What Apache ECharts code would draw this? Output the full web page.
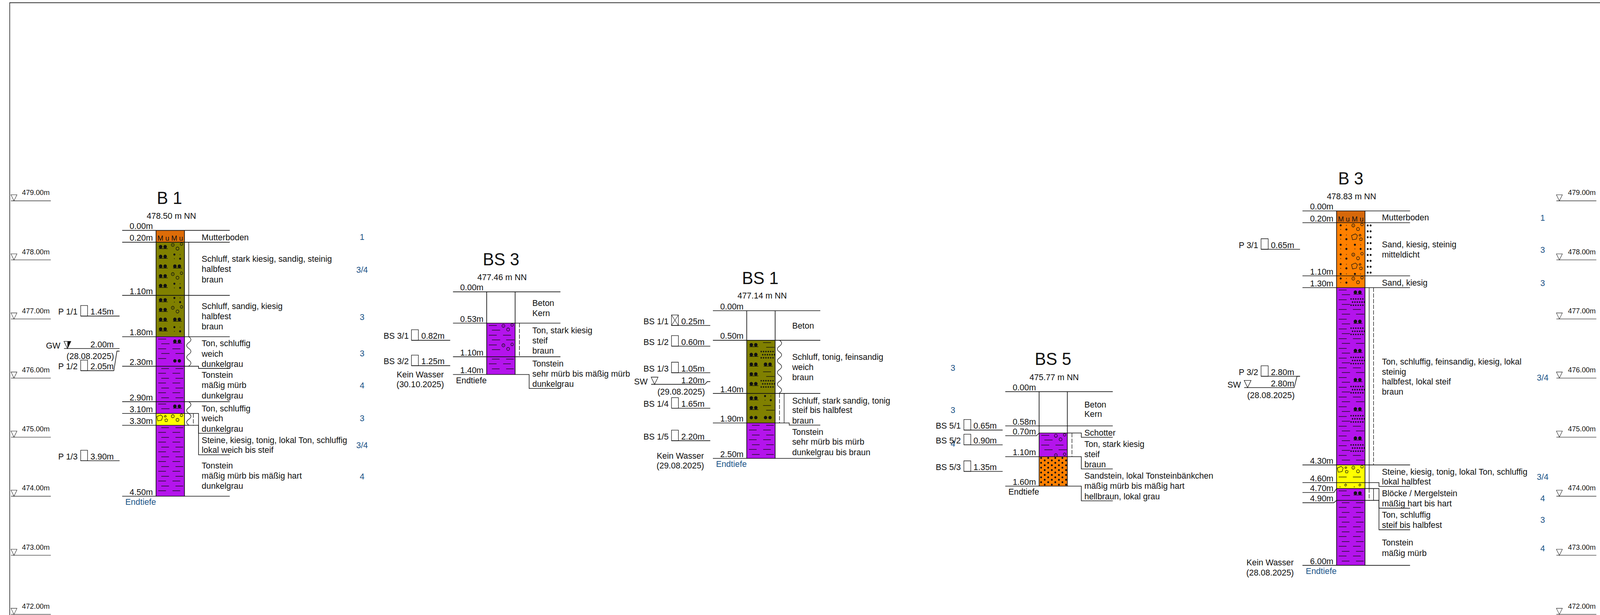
<!DOCTYPE html>
<html><head><meta charset="utf-8">
<style>html,body{margin:0;padding:0;background:#fff;overflow:hidden}#c{width:100vw;height:100vh}</style>
<script src="https://cdn.jsdelivr.net/npm/echarts@6/dist/echarts.min.js"></script>
</head><body><div id="c"></div>
<script>
// ---------- DATA ----------
const scaleLevels = [479,478,477,476,475,474,473,472];
const holeNames = ['B 1','BS 3','BS 1','BS 5','B 3'];
const holeElevations = [478.50,477.46,477.14,475.77,478.83];

const b1Depths = [0,0.20,1.10,1.80,2.30,2.90,3.10,3.30,4.50];
const b1Soils = ['mu','silt','silt','clay','clay','clay','stone','clay'];
const b1Left = [[],rep('silt',5),rep('silt',4),['clay','clay','dash1'],rep('tons',4),['clay'],['stones'],rep('tons',7)];
const b1Right = [[],['gravel','sand','silt','gravel','sand'],['sand','gravel','silt','sand'],['silt','clay','silt0'],rep('tons',4),['silt'],['gravel'],rep('tons',7)];
const b1Notes = ['Mutterboden','Schluff, stark kiesig, sandig, steinig','halbfest','braun','Schluff, sandig, kiesig','halbfest','braun','Ton, schluffig','weich','dunkelgrau','Tonstein','mäßig mürb','dunkelgrau','Ton, schluffig','weich','dunkelgrau','Steine, kiesig, tonig, lokal Ton, schluffig','lokal weich bis steif','Tonstein','mäßig mürb bis mäßig hart','dunkelgrau'];
const b1Classes = ['1','3/4','3','3','4','3','3/4','4'];
const b1Samples = ['P 1/1','P 1/2','P 1/3'];
const b1SampleDepths = [1.45,2.05,3.90];

const bs3Depths = [0,0.53,1.10,1.40];
const bs3Soils = ['none','clay','clay'];
const bs3Left = [[],rep('clay',3),rep('tons',2)];
const bs3Right = [[],['gravel','clay','gravel'],rep('tons',2)];
const bs3Notes = ['Beton','Kern','Ton, stark kiesig','steif','braun','Tonstein','sehr mürb bis mäßig mürb','dunkelgrau'];
const bs3Classes = [];
const bs3Samples = ['BS 3/1','BS 3/2'];
const bs3SampleDepths = [0.82,1.25];

const bs1Depths = [0,0.50,1.40,1.90,2.50];
const bs1Soils = ['none','silt','silt','clay'];
const bs1Left = [[],rep('silt',5),['silt','silt','silt0'],rep('tons',4)];
const bs1Right = [[],['clay','fine','silt','clay','fine'],['sand','clay','silt0'],rep('tons',4)];
const bs1Notes = ['Beton','Schluff, tonig, feinsandig','weich','braun','Schluff, stark sandig, tonig','steif bis halbfest','braun','Tonstein','sehr mürb bis mürb','dunkelgrau bis braun'];
const bs1Classes = ['3','3','4'];
const bs1Samples = ['BS 1/1','BS 1/2','BS 1/3','BS 1/4','BS 1/5'];
const bs1SampleDepths = [0.25,0.60,1.05,1.65,2.20];

const bs5Depths = [0,0.58,0.70,1.10,1.60];
const bs5Soils = ['none','none','clay','sand'];
const bs5Left = [[],[],['clay','clay'],[]];
const bs5Right = [[],[],['gravel','clay','gravel'],[]];
const bs5Notes = ['Beton','Kern','Schotter','Ton, stark kiesig','steif','braun','Sandstein, lokal Tonsteinbänkchen','mäßig mürb bis mäßig hart','hellbraun, lokal grau'];
const bs5Classes = [];
const bs5Samples = ['BS 5/1','BS 5/2','BS 5/3'];
const bs5SampleDepths = [0.65,0.90,1.35];

const b3Depths = [0,0.20,1.10,1.30,4.30,4.60,4.70,4.90,6.00];
const b3Soils = ['muDark','sand','sand','clay','stone','stone','clay','clay'];
const b3Left = [[],rep('sand',6),['sand'],rep('clay',18),['stones','clay'],['dotstone'],['clay'],rep('tons',7)];
const b3Right = [[],['gravel','stones','sand','gravel','stones','sand'],['gravel'],[].concat(...rep(['silt','fine','clay'],6)),['gravel','clay'],['dotstone'],['silt'],rep('tons',7)];
const b3Notes = ['Mutterboden','Sand, kiesig, steinig','mitteldicht','Sand, kiesig','Ton, schluffig, feinsandig, kiesig, lokal','steinig','halbfest, lokal steif','braun','Steine, kiesig, tonig, lokal Ton, schluffig','lokal halbfest','Blöcke / Mergelstein','mäßig hart bis hart','Ton, schluffig','steif bis halbfest','Tonstein','mäßig mürb'];
const b3Classes = ['1','3','3','3/4','3/4','4','3','4'];
const b3Samples = ['P 3/1','P 3/2'];
const b3SampleDepths = [0.65,2.80];

function rep(v,n){return Array(n).fill(v);}

// ---------- LAYOUT & STYLE (reference pixels; the x axis maps them onto the window) ----------
const W=4277,H=1574,PX_PER_M=151.2,Y479=514;
const FONT='"Liberation Sans", Arial, sans-serif';
const INK='#111', BLUE='#1B5488';
const SOIL={none:null,mu:'#DE6C08',muDark:'#D6680B',silt:'#808000',clay:'#B414EC',sand:'#FF8000',stone:'#FFFF00'};

const layouts=[
 {col:417,cw:76,ruleL:326.5,ruleR:614,noteX:539,titleX:453,titleY:506,elevX:458,elevY:552,
  noteY:[607,662.5,688.6,715,783.6,809.3,835.7,878.6,905,931.4,959.3,985.7,1012,1045.8,1070.6,1097,1126.6,1151.2,1191.4,1217.8,1243.4],
  classX:967.5,classY:[606.4,690.4,811,904.6,986.8,1070.3,1139,1219.6],
  endX:417,endC:BLUE,endY:1284.4,
  rules:{4:{x:530.6,to:942.9},6:{x:530.6,to:1109},7:{x:530.6,to:1164}},
  side:[[504.5,1,3,'solid'],[504.5,3,4,'wave'],[504.5,5,7,'wave'],[516.7,6,7,'dash']],
  smp:{textX:155.6,boxL:215.6,boxW:18.4,end:319.5,valR:304},
  smpRoute:{1:{y:948.6,route:[[319.5,898.6],[312.5,898.6],[304.2,948.6]]}},
  water:{tag:'GW',depth:2.0,filled:true,triX:171,tagR:161.4,valR:304,dateR:304.8,date:'(28.08.2025)',route:y=>[[319.5,y],[171,y]]}},
 {col:1300.5,cw:76,ruleL:1210.5,ruleR:1497.6,noteX:1422.5,titleX:1339,titleY:663,elevX:1341.6,elevY:709,
  noteY:[775,801,845.7,871,897,930.7,956.7,982.7],classX:0,classY:[],
  endX:1300.5,endC:INK,endY:973,
  rules:{3:{x:1414,to:994.3}},side:[[1388,1,2,'dash']],
  smp:{textX:1025,boxL:1099.5,boxW:18.5,end:1203,valR:1188},smpRoute:{},
  noWater:{x:1123,y:958,date:'(30.10.2025)'}},
 {col:1995.4,cw:76,ruleL:1905,ruleR:2192,noteX:2116.8,titleX:2031.6,titleY:711,elevX:2036.7,elevY:756.5,
  noteY:[833,913.5,939.7,965.8,1025,1049.5,1076,1105.7,1130.5,1157],
  classX:2546.5,classY:[941.3,1049,1135],
  endX:1995.4,endC:BLUE,endY:1187,
  rules:{3:{x:2109,to:1088}},
  side:[[2083,1,2,'wave'],[2083,2,3,'dash'],[2095.4,2,3,'solid']],
  smp:{textX:1719.4,boxL:1794.4,boxW:18.4,end:1898,valR:1882.6},smpRoute:{},crossed:[0],
  water:{tag:'SW',depth:1.2,filled:false,triX:1740,tagR:1730.6,valR:1882.6,dateR:1883.7,date:'(29.08.2025)',drop:7,route:y=>[[1898,y],[1890,y],[1883.7,y+7],[1740,y+7]]},
  noWater:{x:1818,y:1166,date:'(29.08.2025)'}},
 {col:2776.8,cw:75.4,ruleL:2686.3,ruleR:2973.6,noteX:2897.7,titleX:2814,titleY:918,elevX:2817,elevY:965,
  noteY:[1035,1059.7,1107.3,1136.7,1162.7,1188.7,1217.3,1243.3,1270],classX:0,classY:[],
  endX:2776.8,endC:INK,endY:1258.7,
  rules:{2:{x:2889.6,to:1119.3,drop:7},3:{x:2889.6,to:1200.3},4:{x:2889.6,to:1281.7}},
  side:[[2864.6,2,3,'dash']],pebbles:3,
  smp:{textX:2500.4,boxL:2575.7,boxW:18.5,end:2679.3,valR:2663.6},smpRoute:{}},
 {col:3571.6,cw:76,ruleL:3480.5,ruleR:3768,noteX:3692.8,titleX:3609.6,titleY:456,elevX:3611.5,elevY:502,
  noteY:[556.4,625.7,651.4,723.6,925.4,951.4,976.4,1002.7,1207.5,1232,1262.7,1288,1317.5,1343,1388.7,1415],
  classX:4122.4,classY:[557.5,639.6,724.3,965.9,1220,1275,1330,1403],
  endX:3571.6,endC:BLUE,endY:1461.6,
  rules:{5:{x:3685,to:1245},6:{x:3685,to:1300.6,drop:10.2},7:{x:3685,to:1355.9,drop:6}},
  side:[[3658.7,3,6,'solid'],[3670.5,3,4,'dash'],[3658.7,6,7,'dash'],[3670.5,6,7,'solid']],sideDots:[3658.7,1,2],
  smp:{textX:3310.3,boxL:3369.9,boxW:19,end:3474,valR:3458.3},smpRoute:{},
  water:{tag:'SW',depth:2.8,filled:false,triX:3324.7,tagR:3316,valR:3458.3,dateR:3459.6,date:'(28.08.2025)',drop:29,route:y=>[[3474,y],[3466,y],[3458.3,y+29],[3324.7,y+29]]},
  noWater:{x:3394,y:1439.6,date:'(28.08.2025)'}}
];

const holes=[
 {notes:b1Notes,classes:b1Classes,depths:b1Depths,soils:b1Soils,left:b1Left,right:b1Right,samples:b1Samples,sampleDepths:b1SampleDepths},
 {notes:bs3Notes,classes:bs3Classes,depths:bs3Depths,soils:bs3Soils,left:bs3Left,right:bs3Right,samples:bs3Samples,sampleDepths:bs3SampleDepths},
 {notes:bs1Notes,classes:bs1Classes,depths:bs1Depths,soils:bs1Soils,left:bs1Left,right:bs1Right,samples:bs1Samples,sampleDepths:bs1SampleDepths},
 {notes:bs5Notes,classes:bs5Classes,depths:bs5Depths,soils:bs5Soils,left:bs5Left,right:bs5Right,samples:bs5Samples,sampleDepths:bs5SampleDepths},
 {notes:b3Notes,classes:b3Classes,depths:b3Depths,soils:b3Soils,left:b3Left,right:b3Right,samples:b3Samples,sampleDepths:b3SampleDepths}
];

// ---------- DRAWING HELPERS ----------
const line=(x1,y1,x2,y2,w=1.6,c=INK,dash)=>({type:'line',shape:{x1,y1,x2,y2},style:{stroke:c,lineWidth:w,lineDash:dash||null}});
const poly=(pts,w=1.6,c=INK)=>({type:'polyline',shape:{points:pts},style:{stroke:c,lineWidth:w,fill:null}});
const pgon=(pts,fill,stroke,w=1.2)=>({type:'polygon',shape:{points:pts},style:{fill:fill||'none',stroke:stroke||null,lineWidth:w}});
const circ=(cx,cy,r,fill,w)=>({type:'circle',shape:{cx,cy,r},style:fill?{fill:INK}:{fill:'none',stroke:INK,lineWidth:w||1.3}});
const rect=(x,y,width,height,fill,stroke,w)=>({type:'rect',shape:{x,y,width,height},style:{fill:fill||'none',stroke:stroke||null,lineWidth:w||0}});
const txt=(text,x,y,size,align,fill)=>({type:'text',style:{text,x,y,fill:fill||INK,font:size+'px '+FONT,align:align||'left',verticalAlign:'middle'}});
function wave(x,y0,y1){let d='M'+x+' '+y0,y=y0,s=1;while(y<y1-0.5){const h=Math.min(15,y1-y);d+=' q'+(s*11.4*h/15)+' '+(h/2)+' 0 '+h;y+=h;s=-s;}
 return {type:'path',shape:{pathData:d},style:{fill:'none',stroke:INK,lineWidth:1.4}};}

const GLYPH={
 clay(o,x,y,b){dash(o,x+5.7,x+27,y-6,b);dash(o,x+14,x+36,y+6,b);},
 tons(o,x,y,b){dash(o,x+14,x+34.5,y-6,b);dash(o,x+6,x+26.5,y+6,b);},
 dash1(o,x,y,b){dash(o,x+5.7,x+27,y-6,b);},
 silt(o,x,y){o.push(circ(x+12.3,y-.3,4.6,1),circ(x+24.3,y-.3,4.6,1),line(x+7.3,y+4.6,x+31,y+4.6,1.4));},
 silt0(o,x,y){o.push(circ(x+12.3,y,4.4,1),circ(x+24.3,y,4.4,1));},
 gravel(o,x,y,b){[[6.7,-5,4],[19.3,4.3,4],[30,-7.4,3.4]].forEach(c=>{if(y+c[1]<b)o.push(circ(x+c[0],y+c[1],c[2],0));});if(y-5<b)o.push(circ(x+6.7,y-5,.9,1));},
 sand(o,x,y,b){[[11,-5.3,2.7],[26.3,5.3,2.7],[26.3,-5.3,.9],[11,5.3,.9]].forEach(c=>{if(y+c[1]<b)o.push(circ(x+c[0],y+c[1],c[2],1));});},
 fine(o,x,y){[-8,0,8].forEach((d,r)=>{for(let i=0;i<6;i++)o.push(circ(x+(r==1?4.8:.8)+6.3*i,y+d,1.9,1));});},
 stones(o,x,y){o.push(pgon([[2,-4],[12.3,-8.3],[17.7,-4],[14.7,5],[4.7,6.7]].map(p=>[x+p[0],y+p[1]]),null,INK,1.3));
  o.push(pgon([[22,-5],[25,-7.5],[27.5,-5],[26,-3],[23,-3]].map(p=>[x+p[0],y+p[1]]),null,INK,1.2));
  o.push(pgon([[23.5,3.5],[27.5,1.5],[31,4],[29.5,8.5],[24.5,8.5]].map(p=>[x+p[0],y+p[1]]),null,INK,1.2));},
 dotstone(o,x,y){o.push(circ(x+9.2,y-1.2,1,1));
  o.push(pgon([[21.5,-6.5],[24.5,-9],[27,-6.5],[25.5,-3.5],[22.5,-3.5]].map(p=>[x+p[0],y+p[1]]),null,INK,1.2));}
};
function dash(o,x1,x2,y,b){if(y<b-3.5)o.push(line(x1,y,x2,y,1.4));}

// ---------- RENDER ----------
function fit(api,children){ // reference x → window x, taken from the x axis
 return {type:'group',scaleX:api.coord([W,472])[0]/W,originX:0,children};
}
function renderFrame(params,api){
 return fit(api,[poly([[26,H],[26,7],[W,7]],1.8,'#333')]);
}
function renderScale(params,api){
 const lvl=api.value(1),y=api.coord([0,lvl])[1];
 const out=[];
 [[29.3,135.8,132.7,45.3],[4159,4265.8,4264,4175]].forEach(s=>{
  const tx=s[0];
  out.push(line(s[0],y,s[1],y,1.3,'#333'));
  out.push(pgon([[tx,y-15.5],[s[3],y-15.5],[(tx+s[3])/2,y]],null,'#222',1.1));
  out.push(txt(lvl.toFixed(2)+'m',s[2],y-21.3,19,'right'));
 });
 return fit(api,out);
}

function renderHole(params,api){
 const i=params.dataIndex,h=holes[i],L=layouts[i];
 const top=api.value(1);
 const Y=d=>api.coord([L.col,top-d])[1];
 const out=[],c=L.col,cw=L.cw,D=h.depths;
 h.soils.forEach((s,k)=>{
  const y0=Y(D[k]),y1=Y(D[k+1]);
  if(SOIL[s])out.push(rect(c,y0,cw,y1-y0,SOIL[s]));
  if(s==='mu'||s==='muDark')out.push(txt('M u M u',c+cw/2,y1-10,19,'center'));
  [[h.left[k],0],[h.right[k],38]].forEach(col=>{
   col[0].forEach((g,n)=>{GLYPH[g](out,c+col[1],y0+12+n*24.9,y1);});
  });
 });
 if(L.pebbles!=null){
  const k=L.pebbles,y0=Y(D[k]);
  for(let r=0;r<12;r++)for(let n=0;n<4;n++)out.push(circ(c+(r%2?14.9:5.2)+19*n,y0+3.4+r*6.2,2.5,1));
 }
 const yEnd=Y(D[D.length-1]);
 out.push(line(c,Y(0),c,yEnd,1.8),line(c+cw,Y(0),c+cw,yEnd,1.8));
 D.forEach((d,k)=>{
  const y=Y(d),r=L.rules[k];
  let labY=y;
  if(r&&r.drop){
   out.push(poly([[L.ruleL,y+r.drop],[c-7,y+r.drop],[c,y]]));labY=y+r.drop;
  }else out.push(line(L.ruleL,y,r?c:L.ruleR,y));
  if(r)out.push(poly([[c,y],[r.x,y],[r.x,r.to],[L.ruleR,r.to]]));
  out.push(txt(d.toFixed(2)+'m',c-8.5,labY-11,22.4,'right'));
 });
 L.side.forEach(s=>{
  const y0=Y(D[s[1]]),y1=Y(D[s[2]]);
  if(s[3]==='wave')out.push(wave(s[0],y0,y1));
  else out.push(line(s[0],y0,s[0],y1,1.4,INK,s[3]==='dash'?[11,3.5]:null));
 });
 if(L.sideDots){
  const sd=L.sideDots;
  for(let n=0;n<9;n++){const y=Y(D[sd[1]])+7+n*15.1;out.push(circ(sd[0]-3.9,y,2.6,1),circ(sd[0]+3.9,y,2.6,1));}
 }
 out.push(txt(holeNames[i],L.titleX,L.titleY,45,'center'));
 out.push(txt(holeElevations[i].toFixed(2)+' m NN',L.elevX,L.elevY,22.4,'center'));
 h.notes.forEach((t,k)=>out.push(txt(t,L.noteX,L.noteY[k],22.4)));
 h.classes.forEach((t,k)=>out.push(txt(t,L.classX,L.classY[k],22.4,'center',BLUE)));
 out.push(txt('Endtiefe',L.endX,L.endY,22.4,'right',L.endC));
 const S=L.smp;
 h.samples.forEach((t,k)=>{
  const o=L.smpRoute[k],ly=o?o.y:Y(h.sampleDepths[k]);
  out.push(txt(t,S.textX,ly-11,22.4));
  out.push(rect(S.boxL,ly-27,S.boxW,27,null,INK,1.3));
  if(L.crossed&&L.crossed.includes(k))out.push(line(S.boxL,ly-27,S.boxL+S.boxW,ly,1.1),line(S.boxL+S.boxW,ly-27,S.boxL,ly,1.1));
  if(o)out.push(poly(o.route.concat([[S.boxL,ly]])));
  else out.push(line(S.boxL,ly,S.end,ly));
  out.push(txt(h.sampleDepths[k].toFixed(2)+'m',S.valR,ly-11,22.4,'right'));
 });
 if(L.water){
  const w=L.water,y=Y(w.depth),yl=y+(w.drop||0),x=w.triX;
  out.push(poly(w.route(y)));
  out.push(pgon([[x,yl-18.4],[x+18.4,yl-18.4],[x+9.2,yl]],'#fff',INK,1.3));
  if(w.filled)out.push(pgon([[x+9.2,yl-18.4],[x+18.4,yl-18.4],[x+9.2,yl]],INK));
  out.push(txt(w.tag,w.tagR,yl-7.5,22.4,'right'));
  out.push(txt(w.depth.toFixed(2)+'m',w.valR,yl-10.8,22.4,'right'));
  out.push(txt(w.date,w.dateR,yl+19,22.4,'right'));
 }
 if(L.noWater){
  out.push(txt('Kein Wasser',L.noWater.x,L.noWater.y,22.4,'center'));
  out.push(txt(L.noWater.date,L.noWater.x,L.noWater.y+25.3,22.4,'center'));
 }
 return fit(api,out);
}

const chart=echarts.init(document.getElementById('c'),null,{renderer:'svg'});
chart.setOption({
 animation:false,
 backgroundColor:'#fff',
 grid:{left:0,right:0,top:0,bottom:0},
 xAxis:{type:'value',min:0,max:W,show:false},
 yAxis:{type:'value',min:479-(H-Y479)/PX_PER_M,max:479+Y479/PX_PER_M,show:false},
 series:[
  {type:'custom',silent:true,clip:false,renderItem:renderFrame,data:[[0,479]]},
  {type:'custom',silent:true,clip:false,renderItem:renderScale,data:scaleLevels.map(v=>[0,v])},
  {type:'custom',silent:true,clip:false,renderItem:renderHole,data:holeElevations.map((e,i)=>[layouts[i].col,e])}
 ]
});
</script></body></html>
